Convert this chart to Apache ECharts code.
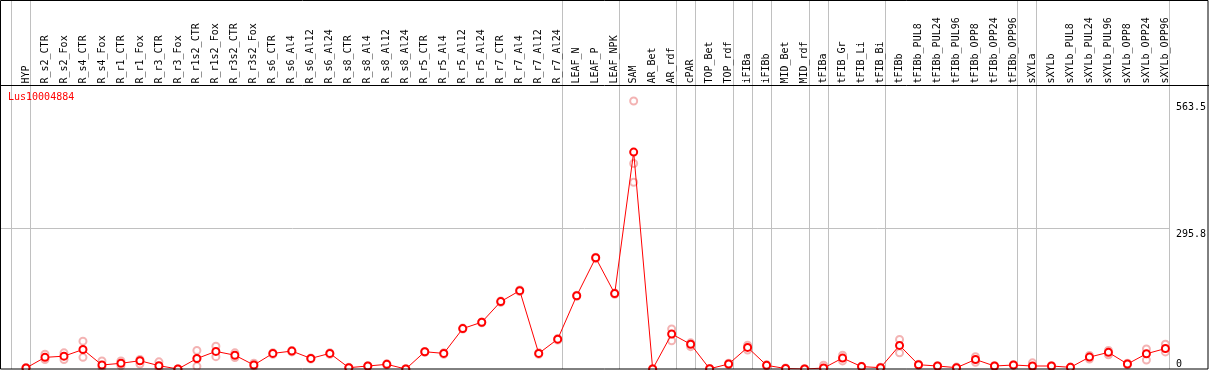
<!DOCTYPE html>
<html>
<head>
<meta charset="utf-8">
<script src="https://cdn.jsdelivr.net/npm/echarts@6/dist/echarts.min.js"></script>
<style>
  html, body { margin: 0; padding: 0; background: #fff; }
  #chart { width: 1209px; height: 370px; }
</style>
</head>
<body>
<div id="chart"></div>
<script>
// gene and sample names
const geneName = 'Lus10004884'
const categories = ['HYP','R_s2_CTR','R_s2_Fox','R_s4_CTR','R_s4_Fox','R_r1_CTR','R_r1_Fox','R_r3_CTR','R_r3_Fox',
    'R_r1s2_CTR','R_r1s2_Fox','R_r3s2_CTR','R_r3s2_Fox','R_s6_CTR','R_s6_Al4','R_s6_Al12','R_s6_Al24',
    'R_s8_CTR','R_s8_Al4','R_s8_Al12','R_s8_Al24','R_r5_CTR','R_r5_Al4','R_r5_Al12','R_r5_Al24',
    'R_r7_CTR','R_r7_Al4','R_r7_Al12','R_r7_Al24','LEAF_N','LEAF_P','LEAF_NPK','SAM','AR_Bet','AR_rdf',
    'cPAR','TOP_Bet','TOP_rdf','iFIBa','iFIBb','MID_Bet','MID_rdf','tFIBa','tFIB_Gr','tFIB_Li','tFIB_Bi',
    'tFIBb','tFIBb_PUL8','tFIBb_PUL24','tFIBb_PUL96','tFIBb_OPP8','tFIBb_OPP24','tFIBb_OPP96',
    'sXYLa','sXYLb','sXYLb_PUL8','sXYLb_PUL24','sXYLb_PUL96','sXYLb_OPP8','sXYLb_OPP24','sXYLb_OPP96']

// mean expression (red line)
const meanValues = [2,24.5,27,41,8.4,12,17.4,7,0,22,37,29,8.4,32.8,37.7,22.3,32.8,2.8,6.3,9.8,0,
    36.3,32.8,85,98.4,141.7,164.7,32.8,62.8,154,233.8,158.5,456,0,73.6,52,0.5,10.5,45.4,7.7,1,0,
    2,23,5,2.8,49.6,9,6.3,2.8,20,6.3,8.4,6.3,6.3,3.5,25,35,10.5,32,43]

// replicates (pale circles)
const rep1 = [3,31,34,58.6,16.7,17,20,15,0,39,48,34,12,34,39,23,34,3.5,7,11,0.5,
    37,34,86,99,143,166,34,64,155,235,160,563.5,0.5,84,55,1,12,50,9,2,0.5,
    8,29,6,3.5,62,10,7,4,26,7,9,13,7,4,28.6,39,12,42,52]
const rep2 = [1,20,20,24.5,4,7,10.5,2,0,5.6,26,24,5,31,36,21,31,2,5.5,8.5,0,
    35,31,84,97,140,163,31,61,153,232,157,432,0,59.5,47,0,9,40,6,0,0,
    0,17,4,2,34,8,5.5,2,14,5.5,7.5,3,5.5,3,21,30,9,19,36]
const rep3 = [null,null,null,null,null,null,null,null,null,22,null,null,null,null,null,null,null,null,null,null,null,
    null,null,null,null,null,null,null,null,null,null,null,392.5,null,null,null,null,null,null,null,null,null,
    null,null,null,null,null,null,null,null,null,null,null,null,null,null,null,null,null,null,null]

// y axis labels
const yTicksTop = [295.8, 563.5]
const yTicksBottom = [0]
// last sample of each tissue group (gray separators)
const groupEnds = [-1,0,28,31,34,35,37,38,39,41,42,45,52,53,60]

const FONT = 'DejaVu Sans Mono'
const GRAY = '#c0c0c0'

let repData = []
;[rep1, rep2, rep3].forEach(function (arr) {
    arr.forEach(function (v, i) {
        if (v === null) return
        repData.push([categories[i], v])
    })
})

let myChart = echarts.init(document.getElementById('chart'))

let option = {
    animation: false,
    title: {
        text: geneName,
        left: 8, top: 92, padding: 0,
        textStyle: {color: '#ff0000', fontFamily: FONT, fontSize: 10, fontWeight: 'normal'}
    },
    grid: {left: 16.5, top: 85.5, width: 1160.8, height: 283.5},
    xAxis: {
        type: 'category',
        position: 'top',
        data: categories,
        boundaryGap: true,
        axisLine: {show: false},
        axisTick: {show: false},
        splitLine: {show: false},
        axisLabel: {
            interval: 0, rotate: 90, margin: 2,
            fontFamily: FONT, fontSize: 10, color: '#000'
        }
    },
    yAxis: [
        {
            type: 'value', min: 0, max: 596, position: 'right',
            axisLine: {show: false}, axisTick: {show: false}, splitLine: {show: false},
            axisLabel: {
                customValues: yTicksTop, margin: 1, verticalAlign: 'top', padding: [1, 0, 0, 0],
                fontFamily: FONT, fontSize: 10, color: '#000'
            }
        },
        {
            type: 'value', min: 0, max: 596, position: 'right',
            axisLine: {show: false}, axisTick: {show: false}, splitLine: {show: false},
            axisLabel: {
                customValues: yTicksBottom, margin: 1, verticalAlign: 'bottom',
                fontFamily: FONT, fontSize: 10, color: '#000'
            }
        }
    ],
    series: [
        {
            type: 'scatter',
            data: repData,
            symbol: 'emptyCircle',
            symbolSize: 7,
            itemStyle: {color: '#f0a0a0', borderColor: '#f0a0a0', borderWidth: 1.5},
            z: 2
        },
        {
            type: 'line',
            data: meanValues,
            symbol: 'emptyCircle',
            symbolSize: 7,
            lineStyle: {color: '#ff0000', width: 1},
            itemStyle: {color: '#ff0000', borderColor: '#ff0000', borderWidth: 1.5},
            z: 3
        }
    ]
}
myChart.setOption(option)

// separators and frame from the axis scales
let x0 = myChart.convertToPixel({xAxisIndex: 0}, categories[0])
let x1 = myChart.convertToPixel({xAxisIndex: 0}, categories[1])
let step = x1 - x0
let yRef = myChart.convertToPixel({yAxisIndex: 0}, yTicksTop[0])
let yZero = myChart.convertToPixel({yAxisIndex: 0}, 0)
let graphics = []
let lastX = 0
groupEnds.forEach(function (idx) {
    let x = Math.round(x0 + idx * step + 4) + 0.5
    lastX = x
    graphics.push({
        type: 'line', z: 0, silent: true,
        shape: {x1: x, y1: 0, x2: x, y2: yZero},
        style: {stroke: GRAY, lineWidth: 1}
    })
})
let yr = Math.round(yRef) + 0.5
graphics.push({
    type: 'line', z: 0, silent: true,
    shape: {x1: 0, y1: yr, x2: lastX, y2: yr},
    style: {stroke: GRAY, lineWidth: 1}
})
graphics.push({
    type: 'line', z: 10, silent: true,
    shape: {x1: 0, y1: 85.5, x2: 1209, y2: 85.5},
    style: {stroke: '#000', lineWidth: 1}
})
graphics.push({
    type: 'rect', z: 10, silent: true,
    shape: {x: 0.5, y: 0.5, width: 1207.5, height: 368.5},
    style: {fill: null, stroke: '#000', lineWidth: 1}
})
myChart.setOption({graphic: graphics})
</script>
</body>
</html>
